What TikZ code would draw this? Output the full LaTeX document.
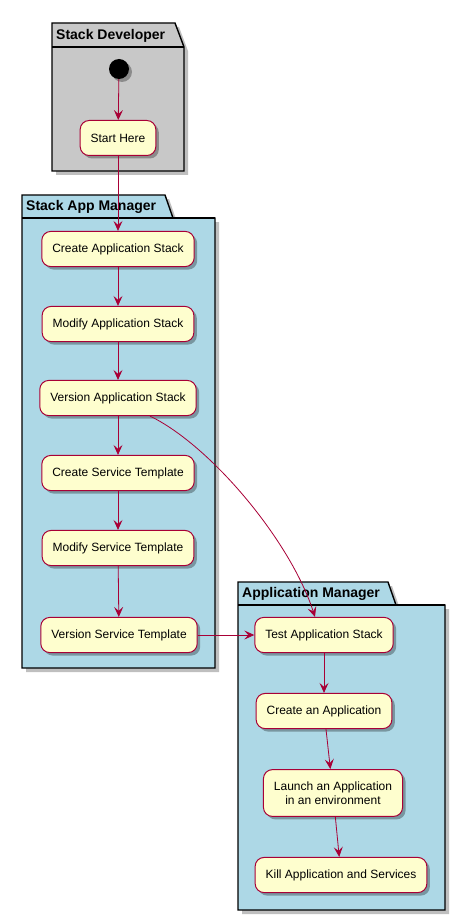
\documentclass[tikz,border=0pt]{standalone}
\usepackage{fontspec}
\setmainfont{Liberation Sans}
\usepackage{tikz}
\usetikzlibrary{positioning,shadows,arrows.meta}
\definecolor{crimson}  {HTML}{A80036}
\definecolor{cream}    {HTML}{FEFECE}
\definecolor{lblue}    {HTML}{ADD8E6}
\definecolor{pkggrey}  {HTML}{C8C8C8}
\tikzset{
  >={Stealth[length=10pt,width=9pt,inset=4pt]},
  % --- nodes
  act/.style   = {rounded corners=9pt, draw=crimson, fill=cream, align=center,
                  line width=1pt, inner xsep=10.5pt, inner ysep=12pt,
                  minimum height=35pt, font=\fontsize{12}{14}\selectfont,
                  drop shadow={shadow xshift=3pt, shadow yshift=-3pt,
                               opacity=0.3, fill=black}},
  start/.style = {circle, fill=black, minimum size=20pt, inner sep=0pt,
                  drop shadow={shadow xshift=3pt, shadow yshift=-3pt,
                               opacity=0.3, fill=black}},
  pkg/.style   = {draw=black, line width=1.4pt,
                  drop shadow={shadow xshift=4pt, shadow yshift=-4pt,
                               opacity=0.25, fill=black}},
  ptitle/.style= {anchor=west, font=\fontsize{14}{16}\selectfont\bfseries,
                  inner sep=0pt},
  % --- edges
  e/.style     = {->, draw=crimson, line width=0.8pt},
}

\begin{document}
\begin{tikzpicture}[x=1pt,y=-1pt]
  \useasboundingbox (0,0) rectangle (465,920);
  % --- packages
  \path[pkg, fill=pkggrey] (52,47) -- (52,23) -- (175,23) -- (184,47)
    -- (184,171) -- (52,171) -- cycle;
  \draw[line width=1.4pt] (52,47) -- (184,47);
  \node[ptitle] (devtitle) at (56,36) {Stack Developer};

  \path[pkg, fill=lblue] (22,218) -- (22,195) -- (165,195) -- (173,218)
    -- (215,218) -- (215,668) -- (22,668) -- cycle;
  \draw[line width=1.4pt] (22,218) -- (215,218);
  \node[ptitle] (samtitle) at (26,207) {Stack App Manager};

  \path[pkg, fill=lblue] (238,605) -- (238,582) -- (388,582) -- (396,605)
    -- (445,605) -- (445,910) -- (238,910) -- cycle;
  \draw[line width=1.4pt] (238,605) -- (445,605);
  \node[ptitle] (amtitle) at (242,594) {Application Manager};

  % --- activities
  \node[start] (init) at (119,69) {};
  \node[act] (here)   at (118,138) {Start Here};
  \node[act] (cas)    at (118,249) {Create Application Stack};
  \node[act] (mas)    at (118,324) {Modify Application Stack};
  \node[act] (vas)    at (118,398) {Version Application Stack};
  \node[act] (cst)    at (118,473) {Create Service Template};
  \node[act] (mst)    at (118,548) {Modify Service Template};
  \node[act] (vst)    at (119,635) {Version Service Template};
  \node[act] (tas)    at (324,635) {Test Application Stack};
  \node[act] (capp)   at (324,711) {Create an Application};
  \node[act] (lapp)   at (333,793) {Launch an Application\\in an environment};
  \node[act] (kill)   at (341,875) {Kill Application and Services};

  \draw[e] (init) -- (here);
  \draw[e] (here) -- (cas);
  \draw[e] (cas) -- (mas);
  \draw[e] (mas) -- (vas);
  \draw[e] (vas) -- (cst);
  \draw[e] (cst) -- (mst);
  \draw[e] (mst) -- (vst);
  \draw[e] (vas.south -| 150,0) .. controls (210,445) and (290,540) .. (tas.north -| 315,0);
  \draw[e] (vst) -- (tas);
  \draw[e] (tas) -- (capp);
  \draw[e] (capp) -- (lapp);
  \draw[e] (lapp) -- (kill);
\end{tikzpicture}
\end{document}
